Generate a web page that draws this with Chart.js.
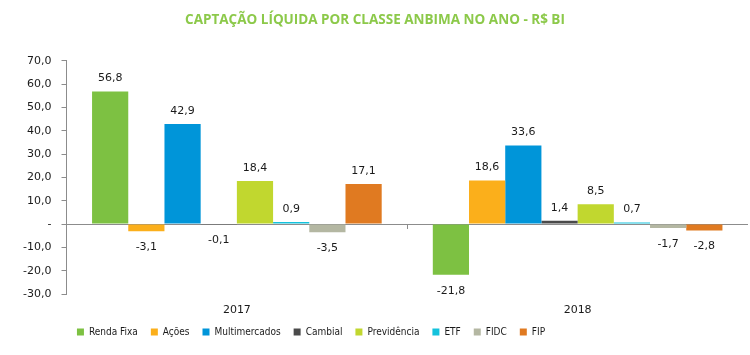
<!DOCTYPE html>
<html><head><meta charset="utf-8">
<script src="https://cdn.jsdelivr.net/npm/chart.js@4/dist/chart.umd.min.js"></script>
<style>html,body{margin:0;padding:0;background:#fff}#wrap{width:750px;height:355px}</style>
</head><body><div id="wrap"><canvas id="c" width="750" height="355"></canvas></div>
<script>
const title = "CAPTAÇÃO LÍQUIDA POR CLASSE ANBIMA NO ANO - R$ BI";
const categories = ["2017", "2018"];
const seriesNames = ["Renda Fixa", "Ações", "Multimercados", "Cambial", "Previdência", "ETF", "FIDC", "FIP"];
const rendaFixa = [56.8, -21.8];
const acoes = [-3.1, 18.6];
const multimercados = [42.9, 33.6];
const cambial = [-0.1, 1.4];
const previdencia = [18.4, 8.5];
const etf = [0.9, 0.7];
const fidc = [-3.5, -1.7];
const fip = [17.1, -2.8];
const seriesValues = [rendaFixa, acoes, multimercados, cambial, previdencia, etf, fidc, fip];
const colors = ["#7DC142", "#FBAF1B", "#0095D9", "#4A4A4A", "#C1D72F", "#14C2DC", "#B4B7A2", "#E07A21"];
const yMin = -30, yMax = 70, yStep = 10;

const FONT = "'DejaVu Sans', sans-serif";
const LFONT = "'DejaVu Sans Condensed', 'DejaVu Sans', sans-serif";
const LEGEND_SHIFT = -64;
const fmt = v => v.toFixed(1).replace('.', ',');

const labelPlugin = {
  id: 'labels',
  afterLayout(chart) {
    // let category labels extend below the (shortened) x-axis box without clipping
    chart.scales.x.bottom = chart.height;
    // legend sits left of centre, as in the original
    if (chart.legend) {
      chart.legend.left += LEGEND_SHIFT;
      chart.legend.right += LEGEND_SHIFT;
    }
  },
  afterDatasetsDraw(chart) {
    const ctx = chart.ctx;
    ctx.save();
    ctx.font = "11px " + FONT;
    ctx.fillStyle = "#1a1a1a";
    ctx.textAlign = "center";
    ctx.textBaseline = "middle";
    chart.data.datasets.forEach((ds, i) => {
      const meta = chart.getDatasetMeta(i);
      meta.data.forEach((bar, j) => {
        const v = ds.data[j];
        const y = v >= 0 ? bar.y - 13 : bar.y + 16;
        ctx.fillText(fmt(v), bar.x, y);
      });
    });
    const xs = chart.scales.x, ys = chart.scales.y;
    const y0 = ys.getPixelForValue(0);
    ctx.strokeStyle = "#8c8c8c";
    ctx.lineWidth = 1;
    for (let k = 0; k < categories.length - 1; k++) {
      const xm = Math.round((xs.getPixelForValue(k) + xs.getPixelForValue(k + 1)) / 2) + 0.5;
      ctx.beginPath(); ctx.moveTo(xm, y0); ctx.lineTo(xm, y0 + 5); ctx.stroke();
    }
    ctx.restore();
  }
};

new Chart(document.getElementById('c'), {
  type: 'bar',
  data: {
    labels: categories,
    datasets: seriesNames.map((n, i) => ({
      label: n, data: seriesValues[i], backgroundColor: colors[i],
      categoryPercentage: 0.85, barPercentage: 1.0, borderWidth: 0
    }))
  },
  options: {
    responsive: false, animation: false,
    layout: { padding: { top: 12, right: 2, left: 2, bottom: 8 } },
    plugins: {
      title: { display: true, text: title, color: "#8CC94A",
        font: { family: "'Open Sans', sans-serif", size: 13.5, weight: 'bold' },
        padding: { top: 0, bottom: 32.5 } },
      legend: { position: 'bottom',
        labels: { boxWidth: 7, boxHeight: 7, padding: 13, color: "#1a1a1a",
          font: { family: LFONT, size: 10 } } },
      tooltip: { enabled: false }
    },
    scales: {
      x: { grid: { display: false, drawTicks: false }, border: { display: false },
        afterFit: s => { s.height = 20; },
        ticks: { color: "#1a1a1a", padding: 10, font: { family: FONT, size: 11 } } },
      y: { min: yMin, max: yMax,
        afterFit: s => { s.width = 64.5; },
        ticks: { stepSize: yStep, color: "#1a1a1a", padding: 10,
          font: { family: FONT, size: 11 },
          callback: v => v === 0 ? "-" : fmt(v) },
        grid: { color: c => c.tick && c.tick.value === 0 ? "#8c8c8c" : "rgba(0,0,0,0)",
          tickColor: "#8c8c8c", tickLength: 5, drawTicks: true },
        border: { color: "#8c8c8c" } }
    }
  },
  plugins: [labelPlugin]
});
</script></body></html>
